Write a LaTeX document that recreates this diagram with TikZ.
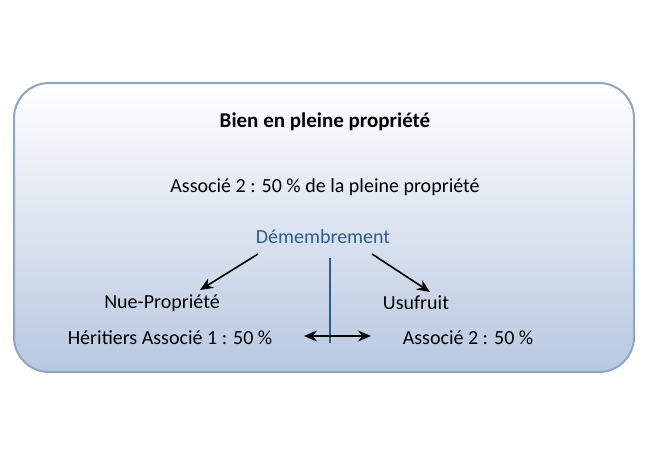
\documentclass[tikz,border=0pt]{standalone}
\usepackage{fontspec}
\usetikzlibrary{arrows.meta}
\setmainfont{Carlito}
\definecolor{bord}{HTML}{8FA5C4}
\definecolor{bot}{HTML}{B8C8E0}
\definecolor{demb}{HTML}{2E5D92}
\begin{document}
\begin{tikzpicture}[x=1pt,y=-1pt,
  txt/.style={inner sep=0pt,font=\fontsize{20}{24}\selectfont},
  tip/.tip={Stealth[length=13pt,width=11pt]},
  arr/.style={-tip,line width=1.6pt}]
\useasboundingbox (0,0) rectangle (650,460);
\shade[top color=white,bottom color=bot,draw=bord,line width=2pt,rounded corners=35pt] (14,83) rectangle (634,372);
\node[txt,font=\fontsize{21}{24}\selectfont\bfseries] (t) at (325,122) {Bien en pleine propriété};
\node[txt] (a2) at (325,187) {Associé 2 : 50 \% de la pleine propriété};
\node[txt,text=demb] (d) at (323,237) {Démembrement};
\node[txt] (np) at (162,303) {Nue-Propriété};
\node[txt] (us) at (416,303) {Usufruit};
\node[txt] (h) at (170,338) {Héritiers Associé 1 : 50 \%};
\node[txt] (a22) at (468,338) {Associé 2 : 50 \%};
\coordinate (l1) at (258,254); \coordinate (l2) at (200,290);
\coordinate (r1) at (372,254); \coordinate (r2) at (430,292);
\draw[arr] (l1) -- (l2);
\draw[arr] (r1) -- (r2);
\coordinate (v1) at (330,258); \coordinate (v2) at (330,343);
\draw[demb,line width=2pt] (v1) -- (v2);
\coordinate (b1) at (304,336); \coordinate (b2) at (371,336);
\draw[tip-tip,line width=1.6pt] (b1) -- (b2);
\end{tikzpicture}
\end{document}
